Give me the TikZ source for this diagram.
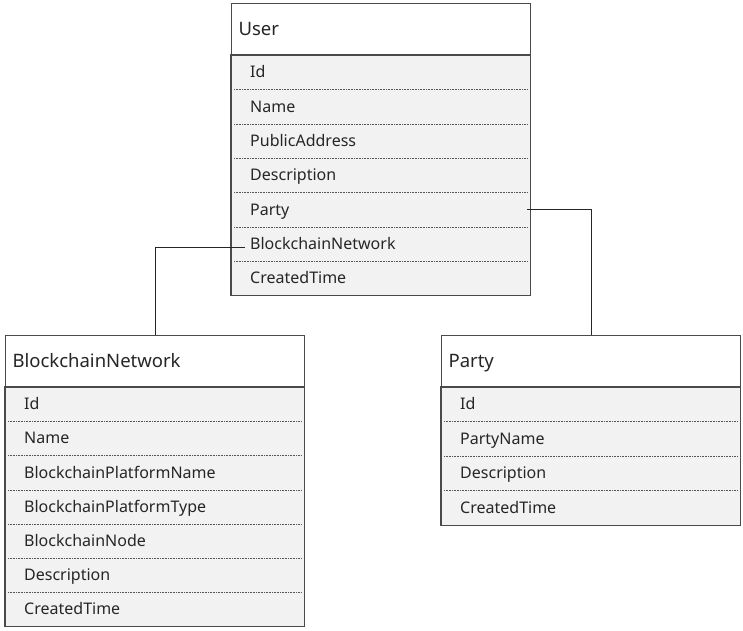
\documentclass[tikz,border=0pt]{standalone}
\usepackage{fontspec}
\setmainfont{Noto Sans}
\usetikzlibrary{calc}
\definecolor{boxgray}{HTML}{4A4A4A}
\definecolor{rowgray}{HTML}{F2F2F2}
\definecolor{sepgray}{HTML}{555555}
\definecolor{txtgray}{HTML}{262626}

\begin{document}
\begin{tikzpicture}[x=1pt,y=-1pt,
    header/.style={draw=boxgray, line width=1.1pt, fill=white, anchor=north west,
        minimum height=52pt, text width=285pt, inner xsep=7pt, align=left,
        text height=13.5pt, text depth=2.5pt,
        text=txtgray, font=\fontsize{18.5}{20}\selectfont},
    field/.style={fill=rowgray, anchor=north west, minimum height=34.3pt,
        text width=261pt, inner xsep=19pt, align=left, inner ysep=0pt,
        text height=13pt, text depth=2pt,
        text=txtgray, font=\fontsize{16}{18}\selectfont},
    outline/.style={draw=boxgray, line width=1.1pt},
    sep/.style={sepgray, dash pattern=on 1pt off 0.6pt, line width=0.7pt},
    link/.style={black!85, line width=0.9pt}]
    \useasboundingbox (0,0) rectangle (743,630);

    %User entity
    \node[header] (user-h) at (231,3) {User};
    \foreach \f [count=\i] in {Id,Name,PublicAddress,Description,Party,BlockchainNetwork,CreatedTime}
        \node[field] (user-\i) at (231,{55+34.3*(\i-1)}) {\f};
    \foreach \i in {1,...,6}
        \draw[sep] ([xshift=3pt]user-\i.south west) -- ([xshift=-3pt]user-\i.south east);
    \draw[outline] (user-1.north west) rectangle (user-7.south east);

    %BlockchainNetwork entity
    \node[header] (bn-h) at (5,335) {BlockchainNetwork};
    \foreach \f [count=\i] in {Id,Name,BlockchainPlatformName,BlockchainPlatformType,BlockchainNode,Description,CreatedTime}
        \node[field] (bn-\i) at (5,{387+34.1*(\i-1)}) {\f};
    \foreach \i in {1,...,6}
        \draw[sep] ([xshift=3pt]bn-\i.south west) -- ([xshift=-3pt]bn-\i.south east);
    \draw[outline] (bn-1.north west) rectangle (bn-7.south east);

    %Party entity
    \node[header] (party-h) at (441,335) {Party};
    \foreach \f [count=\i] in {Id,PartyName,Description,CreatedTime}
        \node[field] (party-\i) at (441,{387+34.5*(\i-1)}) {\f};
    \foreach \i in {1,...,3}
        \draw[sep] ([xshift=3pt]party-\i.south west) -- ([xshift=-3pt]party-\i.south east);
    \draw[outline] (party-1.north west) rectangle (party-4.south east);

    %relations
    \coordinate (bn-from) at ([xshift=14pt,yshift=-4pt]user-6.west);
    \coordinate (party-from) at ([xshift=-3pt]user-5.east);
    \draw[link] (bn-from) -| (bn-h.north);
    \draw[link] (party-from) -| (party-h.north);
\end{tikzpicture}
\end{document}
